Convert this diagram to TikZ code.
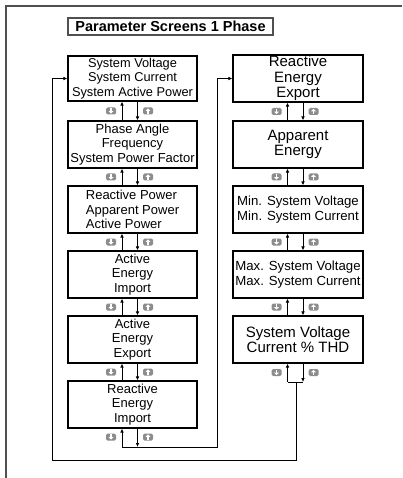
\documentclass[tikz,border=0pt]{standalone}
\usepackage{fontspec}
\setmainfont{Liberation Sans}
\usetikzlibrary{arrows.meta,calc}
\definecolor{framegray}{HTML}{505050}
\definecolor{icongray}{HTML}{8C8C8C}
\begin{document}
\begin{tikzpicture}[x=1pt,y=-1pt,
  scr/.style={draw, line width=1.1pt, minimum width=129pt, minimum height=47pt,
    inner sep=0pt, align=center, font=\fontsize{13}{14.5}\selectfont},
  big/.style={font=\fontsize{15}{15.5}\selectfont},
  arr/.style={line width=0.9pt, -{Latex[length=4pt,width=3.6pt]}},
  lnk/.style={line width=0.9pt},
  pics/dnicon/.style={code={
    \fill[icongray, rounded corners=1.5pt] (-5,-3.5) rectangle (5,3.5);
    \fill[white] (-0.9,-2.6) rectangle (0.9,0.2);
    \fill[white] (-2.3,0.2) -- (2.3,0.2) -- (0,2.7) -- cycle;}},
  pics/upicon/.style={code={
    \fill[icongray, rounded corners=1.5pt] (-5,-3.5) rectangle (5,3.5);
    \fill[white] (-0.9,2.6) rectangle (0.9,-0.2);
    \fill[white] (-2.3,-0.2) -- (2.3,-0.2) -- (0,-2.7) -- cycle;}}
]
\useasboundingbox (0,0) rectangle (402,478);

% outer frame
\draw[framegray, line width=1.6pt] (6,478) -- (6,6) -- (402,6);

% title
\node[draw, framegray, text=black, line width=1.3pt, minimum width=205pt, minimum height=17pt,
  inner sep=0pt, font=\bfseries\fontsize{14.5}{16}\selectfont] (T) at (170.5,26.5)
  {Parameter Screens 1 Phase};

% left column
\node[scr, minimum height=45pt, font=\fontsize{12.8}{14.2}\selectfont] (L1) at (132.5,78.5)
  {System Voltage\\System Current\\System Active Power};
\node[scr] (L2) at (132.5,144.5) {Phase Angle\\Frequency\\System Power Factor};
\node[scr, align=left] (L3) at (132.5,209.5) {Reactive Power\\Apparent Power\\Active Power};
\node[scr] (L4) at (132.5,274.5) {Active\\Energy\\Import};
\node[scr] (L5) at (132.5,339.5) {Active\\Energy\\Export};
\node[scr] (L6) at (132.5,404.5) {Reactive\\Energy\\Import};

% right column
\node[scr, minimum width=130pt, big] (R1) at (298,78.5) {Reactive\\Energy\\Export};
\node[scr, minimum width=130pt, big] (R2) at (298,144.5) {Apparent\\Energy};
\node[scr, minimum width=130pt, font=\fontsize{13.2}{15}\selectfont] (R3) at (298,209.5)
  {Min. System Voltage\\Min. System Current};
\node[scr, minimum width=130pt, font=\fontsize{13.2}{15}\selectfont] (R4) at (298,274.5)
  {Max. System Voltage\\Max. System Current};
\node[scr, minimum width=130pt, big] (R5) at (298,339.5) {System Voltage\\Current \% THD};

% links between consecutive screens
\foreach \a/\b in {L1/L2,L2/L3,L3/L4,L4/L5,L5/L6,R1/R2,R2/R3,R3/R4,R4/R5} {
  \draw[arr] ([xshift=-10.5pt]\b.north) -- ([xshift=-10.5pt]\a.south);
  \draw[arr] ([xshift=5pt]\a.south) -- ([xshift=5pt]\b.north);
  \pic at ($(\a.south)!0.5!(\b.north)+(-21.5,0)$) {dnicon};
  \pic at ($(\a.south)!0.5!(\b.north)+(15.5,0)$) {upicon};
}

% bottom of left column -> top of right column
\coordinate (LB) at (122,447);
\coordinate (LD) at (137.5,447);
\coordinate (LR) at (217,447);
\draw[arr] ([xshift=5pt]L6.south) -- (LD);
\draw[arr] (LB) -- (LB |- L6.south);
\draw[arr] (LB) -- (LR) |- (R1.west);
\pic at (111,437) {dnicon};
\pic at (148,437) {upicon};

% bottom of right column -> top of left column
\coordinate (RB) at (287.5,382);
\coordinate (RD) at (303,382);
\coordinate (RM) at (296,382);
\coordinate (RL) at (296,460);
\coordinate (LL) at (52,460);
\draw[arr] (RB) -- (RB |- R5.south);
\draw[arr] ([xshift=5pt]R5.south) -- (RD);
\draw[lnk] (RB) -- (RD);
\draw[arr] (RM) -- (RL) -- (LL) |- (L1.west);
\pic at (276.5,372.5) {dnicon};
\pic at (313.5,372.5) {upicon};
\end{tikzpicture}
\end{document}
